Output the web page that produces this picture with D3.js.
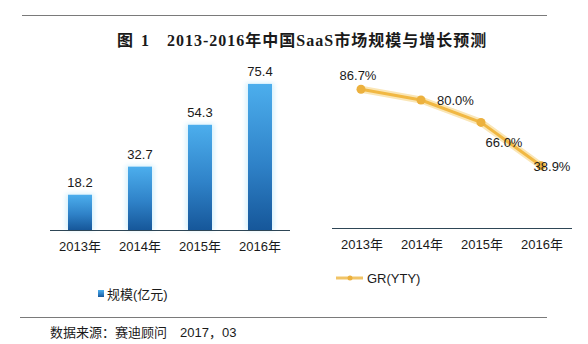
<!DOCTYPE html>
<html><head><meta charset="utf-8">
<script src="https://cdn.jsdelivr.net/npm/d3@7/dist/d3.min.js"></script>
<style>
body{margin:0;background:#fff;}
svg{display:block;}
text{font-family:"Liberation Sans","Noto Sans CJK SC",sans-serif;fill:#1a1a1a;}
</style></head>
<body><svg id="c" width="588" height="344"></svg>
<script>
const titleParts = ["图", "1", "2013-2016年中国SaaS市场规模与增长预测"];
const categories = ["2013年","2014年","2015年","2016年"];
const scaleValues = [18.2, 32.7, 54.3, 75.4];
const growthValues = [86.7, 80.0, 66.0, 38.9];
const scaleLegend = "规模(亿元)";
const growthLegend = "GR(YTY)";
const source = "数据来源：赛迪顾问　2017，03";

const svg = d3.select("#c");
const defs = svg.append("defs");
const grad = defs.append("linearGradient").attr("id","bg").attr("x1",0).attr("y1",0).attr("x2",0).attr("y2",1);
grad.append("stop").attr("offset","0%").attr("stop-color","#4caeed");
grad.append("stop").attr("offset","55%").attr("stop-color","#2f82c8");
grad.append("stop").attr("offset","100%").attr("stop-color","#16579a");
const f = defs.append("filter").attr("id","glow").attr("x","-50%").attr("y","-20%").attr("width","200%").attr("height","140%");
f.append("feGaussianBlur").attr("stdDeviation",2.5);

// rules
svg.append("line").attr("x1",22).attr("x2",547).attr("y1",15.5).attr("y2",15.5).attr("stroke","#7a7a7a").attr("stroke-width",1);
svg.append("line").attr("x1",20).attr("x2",547).attr("y1",317.5).attr("y2",317.5).attr("stroke","#7a7a7a").attr("stroke-width",1);

// title
const tX = [117, 141, 167];
const tt = svg.append("text").attr("y",46)
  .style("font-family",'"Liberation Serif","Noto Sans CJK SC",serif').style("font-weight","bold").style("font-size","16px")
  .style("letter-spacing","1px");
tt.selectAll("tspan").data(titleParts).join("tspan").attr("x",(d,i)=>tX[i]).text(d=>d);

// left bar chart
const x1 = d3.scaleBand().domain(categories).range([50,290]).paddingInner(0.6).paddingOuter(0.3);
const y1 = d3.scaleLinear().domain([0,80]).range([230,75]);
const gL = svg.append("g");
gL.selectAll("rect.halo").data(scaleValues).join("rect").attr("class","halo")
  .attr("x",(d,i)=>x1(categories[i])-2).attr("width",x1.bandwidth()+4)
  .attr("y",d=>y1(d)-1).attr("height",d=>y1(0)-y1(d)+1)
  .attr("fill","#bfe9fb").attr("opacity",0.7).attr("filter","url(#glow)");
gL.selectAll("rect.bar").data(scaleValues).join("rect").attr("class","bar")
  .attr("x",(d,i)=>x1(categories[i])).attr("width",x1.bandwidth())
  .attr("y",d=>y1(d)).attr("height",d=>y1(0)-y1(d)).attr("fill","url(#bg)");
gL.selectAll("text.v").data(scaleValues).join("text").attr("class","v")
  .attr("x",(d,i)=>x1(categories[i])+x1.bandwidth()/2).attr("y",d=>y1(d)-8)
  .attr("text-anchor","middle").style("font-size","13px").text(d=>d.toFixed(1));
const axL = gL.append("g").attr("transform","translate(0,230)").call(d3.axisBottom(x1).tickSize(0).tickPadding(12));
axL.select(".domain").attr("stroke","#2e4656").attr("d","M50,0.5H290");
axL.selectAll("text").style("font-size","13px").attr("fill","#1a1a1a").style("font-family",'"Liberation Sans","Noto Sans CJK SC",sans-serif');

// left legend
svg.append("rect").attr("x",98).attr("y",290).attr("width",6).attr("height",7).attr("fill","url(#bg)");
svg.append("text").attr("x",107).attr("y",299).style("font-size","13px").text(scaleLegend);

// right line chart
const x2 = d3.scaleBand().domain(categories).range([332,572]);
const y2 = d3.scaleLinear().domain([0,100]).range([228,68]);
const gR = svg.append("g");
const pts = growthValues.map((v,i)=>[x2(categories[i])+x2.bandwidth()/2 - 1, y2(v)]);
const line = d3.line();
gR.append("path").attr("d",line(pts)).attr("fill","none").attr("stroke","#fae6b6").attr("stroke-width",7).attr("stroke-linejoin","round").attr("stroke-linecap","round");
gR.append("path").attr("d",line(pts)).attr("fill","none").attr("stroke","#f1b843").attr("stroke-width",3).attr("stroke-linejoin","round").attr("stroke-linecap","round");
gR.selectAll("circle").data(pts).join("circle").attr("cx",d=>d[0]).attr("cy",d=>d[1]).attr("r",4.5).attr("fill","#ecb13e");
// label placement: above, right, below-right, right-centered
const place = [{dx:-3,dy:-9,a:"middle"},{dx:16,dy:5,a:"start"},{dx:23,dy:25,a:"middle"},{dx:11,dy:5,a:"middle"}];
gR.selectAll("text.v").data(growthValues).join("text").attr("class","v")
  .attr("x",(d,i)=>pts[i][0]+place[i].dx).attr("y",(d,i)=>pts[i][1]+place[i].dy)
  .attr("text-anchor",(d,i)=>place[i].a).style("font-size","13px").text(d=>d.toFixed(1)+"%");
const axR = gR.append("g").attr("transform","translate(0,228)").call(d3.axisBottom(x2).tickSize(0).tickPadding(12));
axR.select(".domain").attr("stroke","#2e4656").attr("d","M332,0.5H572");
axR.selectAll("text").style("font-size","13px").attr("fill","#1a1a1a").style("font-family",'"Liberation Sans","Noto Sans CJK SC",sans-serif');

// right legend
svg.append("line").attr("x1",336).attr("x2",363).attr("y1",278).attr("y2",278).attr("stroke","#f1c467").attr("stroke-width",3);
svg.append("circle").attr("cx",350).attr("cy",278).attr("r",2.5).attr("fill","#ecb13e");
svg.append("text").attr("x",367).attr("y",283).style("font-size","13px").text(growthLegend);

// source
svg.append("text").attr("x",50).attr("y",337).style("font-size","13px").attr("xml:space","preserve").text(source);
</script></body></html>
